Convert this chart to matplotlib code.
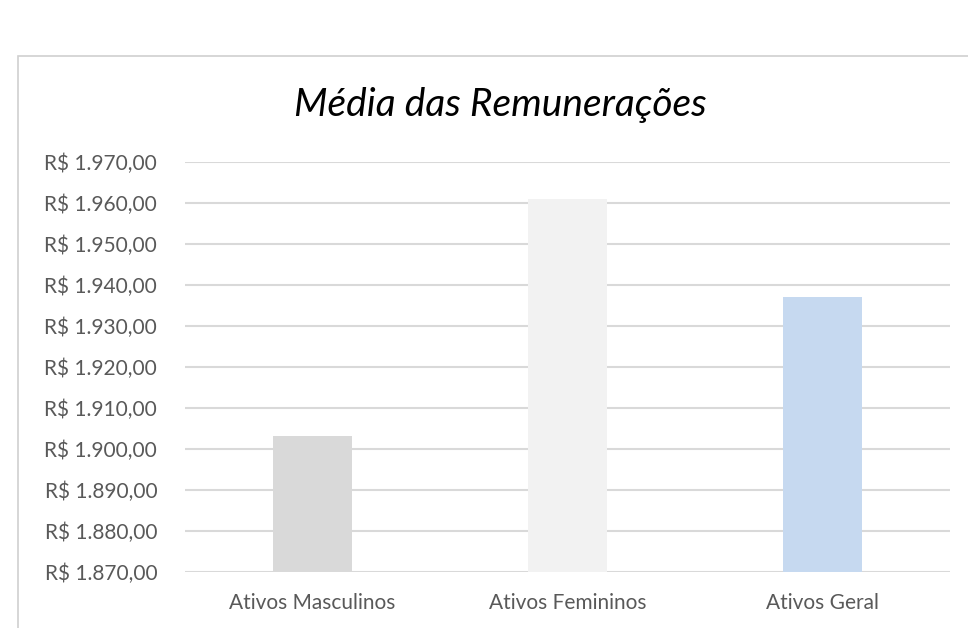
import matplotlib
matplotlib.use('Agg')
import matplotlib.pyplot as plt
import matplotlib.ticker as mticker
from matplotlib.patches import Rectangle

categorias = ['Ativos Masculinos', 'Ativos Femininos', 'Ativos Geral']
medias = [1903.1, 1961.05, 1937.15]
cores = ['#d9d9d9', '#f2f2f2', '#c6d9f0']
titulo = 'Média das Remunerações'

plt.rcParams['font.family'] = ['Lato', 'DejaVu Sans']

fig = plt.figure(figsize=(9.68, 6.28), dpi=100)
fig.patch.set_facecolor('white')

# caixa do grafico (recortada como no print)
fig.patches.append(Rectangle((18 / 968, -0.1), 1.2, (628 - 56) / 628 + 0.1,
                             transform=fig.transFigure, facecolor='white',
                             edgecolor='#d0d0d0', lw=1.2, zorder=1))

ax = fig.add_axes([185 / 968, 1 - 572 / 628, 765 / 968, 410 / 628])
ax.set_zorder(2)
ax.set_facecolor('none')

x = range(len(categorias))
ax.bar(x, medias, width=0.313, color=cores, zorder=3)
ax.set_xlim(-0.5, 2.5)
ax.set_ylim(1870, 1970)
ax.yaxis.set_major_locator(mticker.MultipleLocator(10))
ax.yaxis.set_major_formatter(mticker.FuncFormatter(
    lambda v, p: 'R$ ' + f'{v:,.2f}'.replace(',', 'X').replace('.', ',').replace('X', '.')))
ax.grid(axis='y', color='#d9d9d9', lw=1.5, zorder=0)
for s in ax.spines.values():
    s.set_visible(False)
ax.tick_params(length=0, labelsize=15, colors='#595959')
ax.tick_params(axis='y', pad=20)
ax.tick_params(axis='x', pad=15)
ax.set_xticks(list(x))
ax.set_xticklabels(categorias)

fig.text(500 / 968, 1 - 105 / 628, titulo, fontsize=28, style='italic',
         ha='center', va='center', color='black', zorder=3)

plt.savefig('out.png', dpi=100)
print("done")
